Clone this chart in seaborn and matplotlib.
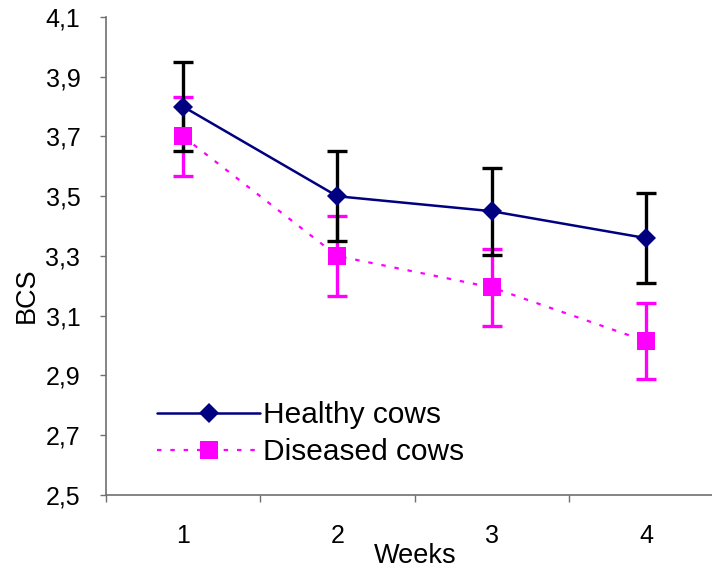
import matplotlib
matplotlib.use("Agg")
import matplotlib.pyplot as plt
import seaborn as sns
import pandas as pd
from matplotlib.ticker import FixedLocator, FuncFormatter

weeks = [1, 2, 3, 4]
week_labels = ["1", "2", "3", "4"]
healthy = [3.80, 3.50, 3.45, 3.36]
healthy_err = [0.15, 0.15, 0.145, 0.15]
diseased = [3.70, 3.30, 3.195, 3.015]
diseased_err = [0.132, 0.133, 0.13, 0.128]
yticks = [2.5, 2.7, 2.9, 3.1, 3.3, 3.5, 3.7, 3.9, 4.1]

sns.set_theme(style="white")
plt.rcParams["font.family"] = ["Liberation Sans", "DejaVu Sans"]
plt.rcParams["text.color"] = "black"
plt.rcParams["axes.labelcolor"] = "black"

df_h = pd.DataFrame({"week": weeks, "bcs": healthy})
df_d = pd.DataFrame({"week": weeks, "bcs": diseased})

fig = plt.figure(figsize=(7.12, 5.69), dpi=100)
ax = fig.add_axes([106 / 712, 1 - 495 / 569, 617 / 712, (495 - 17) / 569])

navy = "#000080"
mag = "#FF00FF"

ax.errorbar(weeks, diseased, yerr=diseased_err, fmt="none", ecolor=mag,
            elinewidth=2.4, capsize=7, capthick=2.4, zorder=2)
ax.errorbar(weeks, healthy, yerr=healthy_err, fmt="none", ecolor="black",
            elinewidth=2.4, capsize=7, capthick=2.4, zorder=2)

sns.lineplot(data=df_d, x="week", y="bcs", ax=ax, color=mag, lw=1.6,
             linestyle=(0, (2, 4)), marker="s", markersize=13,
             markeredgecolor=mag, markeredgewidth=0, label="Diseased cows",
             zorder=3)
sns.lineplot(data=df_h, x="week", y="bcs", ax=ax, color=navy, lw=1.8,
             marker="D", markersize=10.5, markeredgecolor=navy,
             markeredgewidth=0, label="Healthy cows", zorder=4)

ax.set_xlim(0.5, 4.5)
ax.set_ylim(2.5, 4.1)
ax.xaxis.set_major_locator(FixedLocator([0.5, 1.5, 2.5, 3.5, 4.5]))
ax.xaxis.set_major_formatter(FuncFormatter(lambda v, p: ""))
ax.set_xticks(weeks, week_labels, minor=True)
ax.set_yticks(yticks)
ax.yaxis.set_major_formatter(FuncFormatter(lambda v, p: f"{v:.1f}".replace(".", ",")))

for s in ["top", "right"]:
    ax.spines[s].set_visible(False)
for s in ["left", "bottom"]:
    ax.spines[s].set_color("#707070")
    ax.spines[s].set_linewidth(1.2)

ax.tick_params(axis="y", which="major", direction="out", length=4.5, width=1,
               color="#707070", labelsize=18, pad=14, labelcolor="black", left=True)
ax.tick_params(axis="x", which="major", direction="out", length=5, width=1,
               color="#707070", bottom=True)
ax.tick_params(axis="x", which="minor", length=0, labelsize=18, pad=21,
               labelcolor="black", bottom=True)

ax.set_xlabel("Weeks", fontsize=19.5)
ax.xaxis.set_label_coords(0.501, (495 - 543) / 478)
ax.set_ylabel("BCS", fontsize=19.5)
ax.yaxis.set_label_coords((40 - 106) / 617, (495 - 295) / 478)

h, l = ax.get_legend_handles_labels()
order = [l.index("Healthy cows"), l.index("Diseased cows")]
leg = ax.legend([h[i] for i in order], [l[i] for i in order],
                loc="upper left", bbox_to_anchor=(157 / 712, 1 - 401 / 569),
                bbox_transform=fig.transFigure, frameon=False, fontsize=21.5,
                handlelength=3.45, handletextpad=0.1, labelspacing=0.3,
                borderpad=0, borderaxespad=0)

fig.savefig("out.png", dpi=100)
